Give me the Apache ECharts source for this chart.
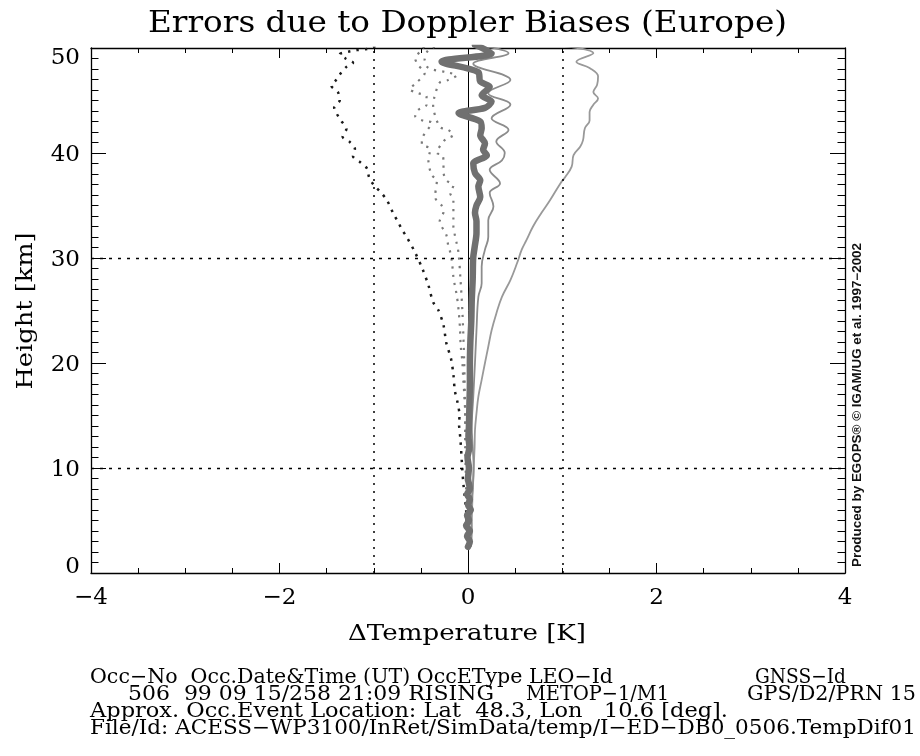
<!DOCTYPE html>
<html><head><meta charset="utf-8">
<script src="https://cdn.jsdelivr.net/npm/echarts@6/dist/echarts.min.js"></script>
<style>html,body{margin:0;padding:0;background:#fff}#c{width:920px;height:756px}</style>
</head><body><div id="c"></div>
<script>
// ---------------- data ----------------
const xTickValues = [-4, -2, 0, 2, 4];
const yTickValues = [0, 10, 20, 30, 40, 50];

// thick mean profile
const meanH = [2.5,3,3.5,4,4.5,5,5.5,6,6.5,7,7.5,8,9,10,11,12,13,14,16,18,20,22,24,26,28,30,31,32.4,33.5,34.3,35.0,35.8,36.8,37.4,38.1,39.0,39.8,40.3,40.9,41.7,42.35,43.0,43.8,44.3,44.9,45.5,46.3,46.8,47.7,48.7,49.5,50.3];
const meanV = [0.0,0.02,-0.01,0.02,-0.02,0.01,-0.01,0.03,0.0,0.02,-0.01,0.02,0.0,0.01,-0.005,0.015,0.005,0.01,0.015,0.02,0.02,0.025,0.035,0.04,0.05,0.055,0.07,0.09,0.09,0.074,0.09,0.13,0.11,0.13,0.074,0.056,0.2,0.16,0.18,0.13,0.145,0.13,-0.1,0.18,0.25,0.145,0.23,0.13,0.11,-0.28,0.25,0.074];

// thin solid profile, near
const upperH = [2.5,4,6,8,10,12,13.9,16.8,20,23.1,26.3,27.6,29.2,30.8,32.0,33.6,34.9,36.2,37.1,38.4,39.3,40.0,41.1,42.2,43.3,44.6,45.7,46.95,48.5,49.5,50.3];
const upperV = [0.03,0.04,0.03,0.05,0.06,0.05,0.04,0.056,0.074,0.09,0.11,0.145,0.145,0.18,0.215,0.215,0.27,0.23,0.34,0.23,0.36,0.39,0.30,0.43,0.25,0.45,0.215,0.45,0.056,0.43,0.074];

// thin solid profile, far right
const rmsH = [2.5,5,8,10,12,13.6,15.2,16.8,18.4,20,21.55,23.1,24.7,26.3,27.9,29.5,30.8,31.7,33.0,34.3,35.5,37.1,37.7,38.7,39.8,40.6,41.2,42.35,43.1,43.9,44.6,45.2,45.8,46.5,47.3,48.1,48.7,49.5,50.3];
const rmsV = [0.03,0.04,0.05,0.06,0.07,0.074,0.09,0.11,0.145,0.18,0.215,0.25,0.30,0.36,0.45,0.52,0.57,0.62,0.69,0.78,0.87,0.98,1.03,1.10,1.12,1.19,1.22,1.24,1.29,1.29,1.33,1.38,1.33,1.37,1.38,1.29,1.15,1.33,0.9];

// black dotted profile, far left
const negRmsH = [2.5,4,6,8.6,10.4,12.7,14.25,15.0,16.2,17.4,18.9,20.4,21.9,23.6,25.05,25.8,27.4,28.9,30.5,32.0,32.7,33.4,34.2,35.5,36.3,36.95,37.7,38.5,39.1,39.7,40.4,41.1,41.55,42.3,43.0,43.7,44.3,45.05,45.8,46.4,46.95,47.6,48.2,48.6,49.0,49.4,49.65,49.8,49.9,50.3];
const negRmsV = [0.0,-0.01,-0.02,-0.05,-0.064,-0.08,-0.095,-0.09,-0.11,-0.14,-0.155,-0.18,-0.23,-0.26,-0.315,-0.37,-0.42,-0.48,-0.56,-0.65,-0.70,-0.74,-0.79,-0.86,-0.93,-1.00,-1.05,-1.07,-1.14,-1.22,-1.20,-1.26,-1.33,-1.29,-1.34,-1.39,-1.42,-1.36,-1.38,-1.45,-1.40,-1.35,-1.29,-1.22,-1.30,-1.36,-1.27,-1.18,-1.075,-0.95];

// gray dotted profile A
const lowerAH = [2.5,5,8,10,12,15.4,17.1,18.4,20.1,21.7,23.3,25.05,26.5,27.4,28.2,29.6,30.6,31.2,32.2,33.5,34.4,35.0,35.8,37.4,37.9,39.3,40.4,40.8,41.55,42.9,43.05,43.5,44.1,44.6,45.4,45.7,46.1,46.6,47.6,48.4,49.0,49.65,50.3];
const lowerAV = [0.0,-0.01,-0.02,-0.025,-0.03,-0.03,-0.04,-0.05,-0.06,-0.078,-0.085,-0.10,-0.12,-0.14,-0.155,-0.17,-0.19,-0.21,-0.23,-0.30,-0.26,-0.28,-0.35,-0.33,-0.385,-0.42,-0.40,-0.49,-0.48,-0.385,-0.47,-0.56,-0.53,-0.44,-0.44,-0.53,-0.62,-0.56,-0.46,-0.53,-0.56,-0.51,-0.45];

// gray dotted profile B
const lowerBH = [2.5,8,12,15,20,25,28,30.45,31.4,32.2,33.0,33.6,35.5,36.2,36.9,37.4,38.2,39.0,39.8,40.0,41.3,41.7,42.2,42.5,44.6,45.2,46.7,46.95,47.4,47.7,48.1,48.9,49.8,50.3];
const lowerBV = [0.0,-0.01,-0.02,-0.03,-0.04,-0.06,-0.08,-0.10,-0.12,-0.14,-0.155,-0.155,-0.155,-0.19,-0.155,-0.23,-0.26,-0.26,-0.27,-0.33,-0.24,-0.155,-0.21,-0.30,-0.37,-0.36,-0.30,-0.21,-0.12,-0.23,-0.42,-0.46,-0.42,-0.30];

// reference lines
const zeroLineX = [0];
const dottedGridX = [-1, 1];
const dottedGridY = [10, 30];

// texts
const titleText = 'Errors due to Doppler Biases (Europe)';
const xAxisName = '\u0394Temperature [K]';
const yAxisName = 'Height [km]';
const creditText = 'Produced by EGOPS\u00AE \u00A9 IGAM/UG et al. 1997\u22122002';
const infoSegments = [
  ['Occ\u2212No  Occ.Date&Time (UT) OccEType LEO\u2212Id', 'GNSS\u2212Id'],
  ['506  99 09 15/258 21:09 RISING', 'METOP\u22121/M1', 'GPS/D2/PRN 15'],
  ['Approx. Occ.Event Location: Lat  48.3, Lon   10.6 [deg].'],
  ['File/Id: ACESS\u2212WP3100/InRet/SimData/temp/I\u2212ED\u2212DB0_0506.TempDif01']
];

// ---------------- layout ----------------
const SERIF = '"DejaVu Serif", serif';
const pairs = (v, h) => v.map((x, i) => [x, h[i]]);
const mctx = document.createElement('canvas').getContext('2d');
function measure(text, size, family, weight) {
  mctx.font = (weight || 'normal') + ' ' + size + 'px ' + family;
  return mctx.measureText(text).width;
}
function fitText(text, size, family, x0, width, cy, opts) {
  opts = opts || {};
  const w = measure(text, size, family, opts.weight);
  const sx = width / w;
  return {
    type: 'text', silent: true, z: 100,
    x: x0, y: cy, rotation: opts.rotation || 0,
    scaleX: sx, scaleY: opts.scaleY || 1,
    style: {
      text: text, fill: opts.fill || '#000',
      font: (opts.weight || 'normal') + ' ' + size + 'px ' + family,
      textAlign: opts.align || 'left', textVerticalAlign: 'middle'
    }
  };
}

const segLayout = [
  [[90, 523], [755, 91]],
  [[128, 366], [526, 143], [747, 169]],
  [[90, 638]],
  [[90, 826]]
];
const lineY = [678, 695, 712, 729];

const graphics = [];
graphics.push(fitText(titleText, 30, SERIF, 467.5, 639, 24, {align: 'center'}));
graphics.push(fitText(xAxisName, 23, SERIF, 467, 238, 634, {align: 'center'}));
graphics.push(fitText(yAxisName, 23, SERIF, 26, 157, 311, {align: 'center', rotation: Math.PI / 2}));
graphics.push(fitText(creditText, 12, '"Liberation Sans", sans-serif', 858, 324, 405, {align: 'center', rotation: Math.PI / 2, weight: 'bold', fill: '#111'}));
infoSegments.forEach((segs, li) => {
  segs.forEach((s, si) => {
    const L = segLayout[li][si];
    graphics.push(fitText(s, 20, SERIF, L[0], L[1], lineY[li]));
  });
});

const labelFont = {fontFamily: SERIF, fontSize: 23, color: '#000'};
const axisLineStyle = {color: '#000', width: 1.3};

function xAxisCfg(pos, showLabel) {
  return {
    type: 'value', position: pos, min: xTickValues[0], max: xTickValues[xTickValues.length - 1],
    interval: xTickValues[1] - xTickValues[0],
    axisLine: {show: true, onZero: false, lineStyle: axisLineStyle},
    axisTick: {show: true, inside: true, length: 10, lineStyle: {color: '#000', width: 1}},
    minorTick: {show: true, splitNumber: 4, length: 5, lineStyle: {color: '#000', width: 1}},
    splitLine: {show: false}, minorSplitLine: {show: false},
    axisLabel: Object.assign({show: showLabel, margin: 14,
      formatter: v => String(v).replace('-', '\u2212')}, labelFont)
  };
}
function yAxisCfg(pos, showLabel) {
  return {
    type: 'value', position: pos, min: yTickValues[0], max: yTickValues[yTickValues.length - 1],
    interval: yTickValues[1] - yTickValues[0],
    axisLine: {show: true, onZero: false, lineStyle: axisLineStyle},
    axisTick: {show: true, inside: true, length: 15, lineStyle: {color: '#000', width: 1}},
    minorTick: {show: true, splitNumber: 10, length: 7.5, lineStyle: {color: '#000', width: 1}},
    splitLine: {show: false}, minorSplitLine: {show: false},
    axisLabel: {show: showLabel, margin: 11,
      formatter: v => v === yTickValues[0] ? '{lo|' + v + '}' : v === yTickValues[yTickValues.length - 1] ? '{hi|' + v + '}' : '{n|' + v + '}',
      rich: {
        n: Object.assign({padding: [4, 0, 0, 0]}, labelFont),
        lo: Object.assign({padding: [0, 0, 11, 0]}, labelFont),
        hi: Object.assign({padding: [21, 0, 0, 0]}, labelFont)
      }
    }
  };
}

const refLines = [];
zeroLineX.forEach(v => refLines.push({xAxis: v, lineStyle: {type: 'solid', color: '#000', width: 1}}));
dottedGridX.forEach(v => refLines.push({xAxis: v, lineStyle: {type: [2, 6], color: '#000', width: 1.5}}));
dottedGridY.forEach(v => refLines.push({yAxis: v, lineStyle: {type: [3, 6], color: '#000', width: 1.3}}));

function profile(name, v, h, style, z, smooth) {
  return {
    name: name, type: 'line', data: pairs(v, h), showSymbol: false, symbol: 'none',
    smooth: smooth || false,
    lineStyle: style, z: z, animation: false, silent: true
  };
}

const option = {
  animation: false,
  backgroundColor: '#fff',
  grid: {left: 91, right: 75, top: 48, bottom: 183, containLabel: false},
  xAxis: [xAxisCfg('bottom', true), xAxisCfg('top', false)],
  yAxis: [yAxisCfg('left', true), yAxisCfg('right', false)],
  series: [
    {type: 'line', data: [], z: 1, silent: true,
     markLine: {silent: true, symbol: ['none', 'none'], label: {show: false}, animation: false, data: refLines}},
    profile('negRms', negRmsV, negRmsH, {color: '#1a1a1a', width: 2.5, type: [2.5, 6]}, 3, 0.3),
    profile('lowerA', lowerAV, lowerAH, {color: '#7a7a7a', width: 2.2, type: [2.2, 6]}, 3, 0.3),
    profile('lowerB', lowerBV, lowerBH, {color: '#7a7a7a', width: 2.2, type: [2.2, 6]}, 3, 0.3),
    profile('rms', rmsV, rmsH, {color: '#999999', width: 1.8}, 4, 0.4),
    profile('upper', upperV, upperH, {color: '#8c8c8c', width: 1.8}, 4, 0.4),
    profile('mean', meanV, meanH, {color: '#707070', width: 6.5, join: 'round', cap: 'round'}, 5, 0.3)
  ],
  graphic: graphics
};

const chart = echarts.init(document.getElementById('c'), null, {renderer: 'canvas'});
chart.setOption(option);
</script>
</body></html>
